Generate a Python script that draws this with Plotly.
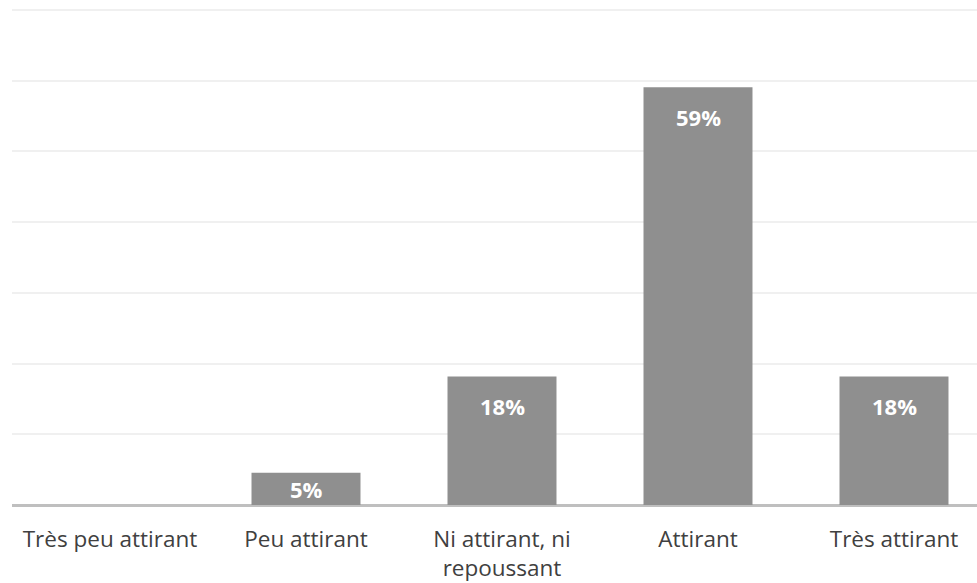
import plotly.graph_objects as go

categories = ["Très peu attirant", "Peu attirant", "Ni attirant, ni<br>repoussant", "Attirant", "Très attirant"]
values = [0, 4.55, 18.18, 59.09, 18.18]
y_ticks = [0, 10, 20, 30, 40, 50, 60, 70]

W, H = 977, 583
y_top = 70.15
M = dict(l=12, r=0, t=9, b=78)
ppu = (H - M["t"] - M["b"]) / y_top

fig = go.Figure()
fig.add_trace(go.Bar(
    x=list(range(len(categories))), y=values,
    marker=dict(color="#8f8f8f", line=dict(width=0)),
    width=0.556, hoverinfo="skip",
))

for i, v in enumerate(values):
    if v <= 0:
        continue
    label = f"{v:.0f}%"
    if v * ppu > 60:
        fig.add_annotation(x=i, y=v, yshift=-30, text=label, showarrow=False,
                           yanchor="middle", font=dict(color="white", size=22, family="Open Sans", weight="bold"))
    else:
        fig.add_annotation(x=i, y=v / 2, text=label, showarrow=False,
                           yanchor="middle", font=dict(color="white", size=22, family="Open Sans", weight="bold"))

fig.update_layout(
    width=W, height=H, margin=M,
    paper_bgcolor="white", plot_bgcolor="white",
    showlegend=False,
    font=dict(family="Open Sans", size=22.5, color="#404040"),
    xaxis=dict(
        tickmode="array", tickvals=list(range(len(categories))), ticktext=categories,
        range=[-0.5, -0.5 + (W - M["l"] - M["r"]) / 196],
        showgrid=False, showline=False, zeroline=False, ticks="",
        ticklabelstandoff=18,
    ),
    yaxis=dict(
        range=[0, y_top], tickvals=y_ticks, showticklabels=False,
        showgrid=True, gridcolor="#f0f0f0", gridwidth=2,
        zeroline=True, zerolinecolor="#bfbfbf", zerolinewidth=3,
        showline=False, ticks="",
    ),
)

fig.write_html("out.html", config={"displayModeBar": False},
               post_script="document.body.style.margin='0';document.body.style.overflow='hidden';")
